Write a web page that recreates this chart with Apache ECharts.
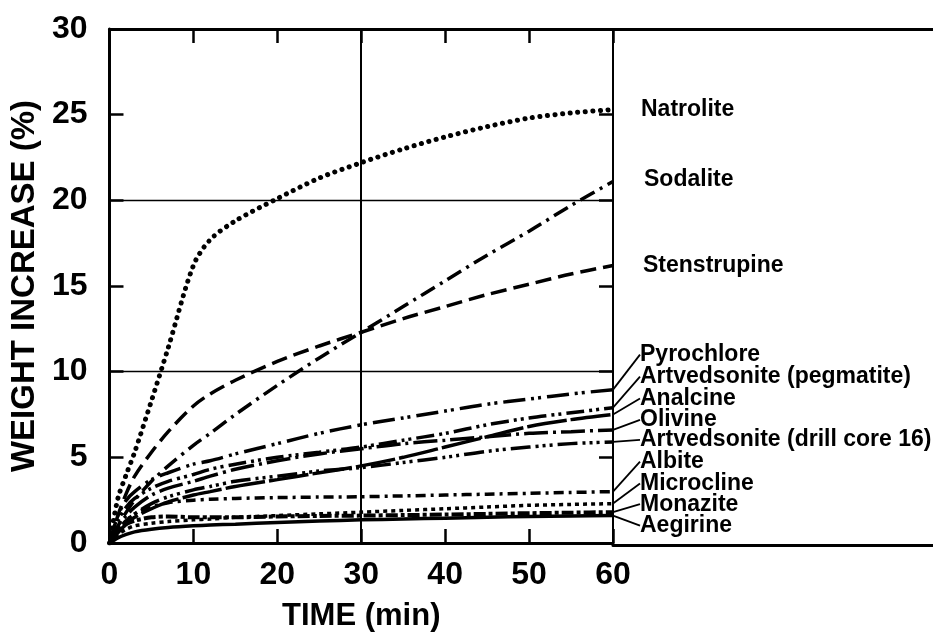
<!DOCTYPE html>
<html><head><meta charset="utf-8">
<script src="https://cdn.jsdelivr.net/npm/echarts@6/dist/echarts.min.js"></script>
<style>html,body{margin:0;padding:0;background:#fff}#c{width:933px;height:637px}</style>
</head><body><div id="c"></div>
<script>
// ---- data ----
const times        = [0, 1, 2, 3, 5, 7, 10, 12, 15, 20, 25, 30, 35, 40, 45, 50, 55, 60];
const natrolite    = [0, 2.6, 4.0, 5.3, 8.3, 11.4, 16.2, 17.7, 18.8, 20.1, 21.3, 22.2, 23.0, 23.7, 24.3, 24.8, 25.1, 25.3];
const sodalite     = [0, 1.0, 1.8, 2.5, 3.6, 4.5, 5.7, 6.4, 7.5, 9.2, 10.8, 12.3, 13.8, 15.3, 16.8, 18.2, 19.7, 21.1];
const stenstrupine = [0, 1.6, 2.9, 3.9, 5.3, 6.5, 8.0, 8.7, 9.5, 10.6, 11.5, 12.3, 13.1, 13.8, 14.5, 15.1, 15.7, 16.2];
const pyrochlore   = [0, 1.6, 2.5, 3.0, 3.7, 4.1, 4.6, 4.8, 5.2, 5.8, 6.4, 6.9, 7.3, 7.7, 8.1, 8.4, 8.7, 8.95];
const artvPegm     = [0, 1.3, 2.1, 2.6, 3.2, 3.6, 4.0, 4.3, 4.6, 5.0, 5.3, 5.6, 6.0, 6.4, 6.9, 7.3, 7.6, 7.9];
const analcine     = [0, 0.6, 1.1, 1.5, 2.0, 2.4, 2.8, 3.0, 3.3, 3.7, 4.1, 4.5, 5.0, 5.6, 6.2, 6.8, 7.2, 7.5];
const olivine      = [0, 1.0, 1.6, 2.1, 2.8, 3.2, 3.6, 3.9, 4.3, 4.8, 5.2, 5.5, 5.8, 6.0, 6.2, 6.4, 6.5, 6.6];
const artvDrill    = [0, 0.8, 1.3, 1.7, 2.3, 2.7, 3.1, 3.3, 3.6, 3.9, 4.2, 4.4, 4.7, 5.0, 5.35, 5.6, 5.8, 5.9];
const albite       = [0, 0.8, 1.3, 1.7, 2.1, 2.35, 2.5, 2.55, 2.6, 2.65, 2.68, 2.7, 2.75, 2.8, 2.85, 2.9, 2.95, 3.0];
const microcline   = [0, 0.5, 0.8, 1.0, 1.15, 1.25, 1.35, 1.4, 1.5, 1.6, 1.7, 1.8, 1.9, 2.0, 2.1, 2.2, 2.25, 2.3];
const monazite     = [0, 0.7, 1.1, 1.3, 1.5, 1.55, 1.5, 1.5, 1.5, 1.55, 1.58, 1.6, 1.63, 1.66, 1.7, 1.74, 1.77, 1.8];
const aegirine     = [0, 0.3, 0.5, 0.65, 0.8, 0.9, 1.0, 1.05, 1.1, 1.2, 1.28, 1.35, 1.4, 1.45, 1.5, 1.55, 1.58, 1.6];

const seriesNames = ['Natrolite', 'Sodalite', 'Stenstrupine', 'Pyrochlore', 'Artvedsonite (pegmatite)',
  'Analcine', 'Olivine', 'Artvedsonite (drill core 16)', 'Albite', 'Microcline', 'Monazite', 'Aegirine'];
const xTickLabels = ['0', '10', '20', '30', '40', '50', '60'];
const yTickLabels = ['0', '5', '10', '15', '20', '25', '30'];

// ---- styles ----
const FONT = 'Liberation Sans';
const K = '#000';
const styles = [
  { vals: natrolite,    dash: [0.1, 7.5], width: 5, cap: 'round', dx: 28, dy: 0,   leader: false },
  { vals: sodalite,     dash: [16, 6, 3, 6], width: 3.5, dx: 31, dy: -2, leader: false },
  { vals: stenstrupine, dash: [16, 7], width: 3.5, dx: 30, dy: 0, leader: false },
  { vals: pyrochlore,   dash: [22, 6, 3, 4, 3, 6], width: 3.5, dx: 27, dy: -35, leader: true },
  { vals: artvPegm,     dash: [18, 5, 3, 4, 3, 5], width: 3.5, dx: 27, dy: -31, leader: true },
  { vals: analcine,     dash: [40, 4], width: 3.5, dx: 27, dy: -16, leader: true },
  { vals: olivine,      dash: [24, 5, 3, 5], width: 3.5, dx: 27, dy: -10, leader: true },
  { vals: artvDrill,    dash: [20, 5, 3, 4, 3, 4, 3, 5], width: 3.5, dx: 27, dy: -2, leader: true },
  { vals: albite,       dash: [10, 5, 3, 5], width: 3.5, dx: 27, dy: -30, leader: true },
  { vals: microcline,   dash: [4, 4], width: 3.5, dx: 27, dy: -20, leader: true },
  { vals: monazite,     dash: [12, 3, 4, 3], width: 4, dx: 27, dy: -8, leader: true },
  { vals: aegirine,     dash: 'solid', width: 3.5, dx: 27, dy: 10, leader: true }
];

const series = styles.map((s, k) => {
  const last = times.length - 1;
  const data = times.map((t, i) => i === last
    ? { value: [t, s.vals[i]], label: { show: true } }
    : [t, s.vals[i]]);
  const obj = {
    name: seriesNames[k], type: 'line', xAxisIndex: 0, yAxisIndex: 0,
    data, smooth: 0.3,
    showSymbol: true, symbol: 'circle', symbolSize: 0.01,
    itemStyle: { color: K },
    lineStyle: { color: K, width: s.width, type: s.dash, cap: s.cap || 'butt' },
    label: { show: false, position: 'right', distance: 0, formatter: seriesNames[k],
      color: K, fontFamily: FONT, fontWeight: 'bold', fontSize: 23 },
    labelLayout: { dx: s.dx, dy: s.dy },
    labelLine: { show: s.leader, lineStyle: { color: K, width: 1.8 } },
    emphasis: { disabled: true }, silent: true, z: 3
  };
  if (k === 0) {
    obj.markLine = {
      silent: true, symbol: ['none', 'none'], label: { show: false }, animation: false,
      lineStyle: { color: K, width: 1.4, type: 'solid' },
      data: [{ yAxis: 10 }, { yAxis: 20 }, { xAxis: 30, lineStyle: { width: 2, type: 'solid', color: K } }]
    };
  }
  return obj;
});

const axisLine = w => ({ show: true, onZero: false, lineStyle: { color: K, width: w } });
const tick = () => ({ show: true, inside: true, length: 14, lineStyle: { color: K, width: 2.5 } });

const chart = echarts.init(document.getElementById('c'), null, { renderer: 'canvas' });
chart.setOption({
  animation: false,
  backgroundColor: '#fff',
  grid: [
    { left: 106, right: 320, top: 29, bottom: 92 },
    { left: 613, right: -4, top: 29, bottom: 92 }
  ],
  xAxis: [
    { gridIndex: 0, type: 'value', min: 0, max: 60, interval: 10, position: 'bottom',
      axisLine: axisLine(3), axisTick: tick(),
      axisLabel: { color: K, fontFamily: FONT, fontWeight: 'bold', fontSize: 32, margin: 16,
        formatter: v => xTickLabels[Math.round(v / 10)] },
      splitLine: { show: false },
      name: 'TIME (min)', nameLocation: 'middle', nameGap: 58,
      nameTextStyle: { color: K, fontFamily: FONT, fontWeight: 'bold', fontSize: 31 } },
    { gridIndex: 0, type: 'value', min: 0, max: 60, interval: 10, position: 'top',
      axisLine: axisLine(3), axisTick: tick(), axisLabel: { show: false }, splitLine: { show: false } },
    { gridIndex: 1, type: 'value', min: 0, max: 1, position: 'bottom',
      axisLine: axisLine(3), axisTick: { show: false }, axisLabel: { show: false }, splitLine: { show: false } },
    { gridIndex: 1, type: 'value', min: 0, max: 1, position: 'top',
      axisLine: axisLine(3), axisTick: { show: false }, axisLabel: { show: false }, splitLine: { show: false } }
  ],
  yAxis: [
    { gridIndex: 0, type: 'value', min: 0, max: 30, interval: 5, position: 'left',
      axisLine: axisLine(3), axisTick: tick(),
      axisLabel: { color: K, fontFamily: FONT, fontWeight: 'bold', fontSize: 32, margin: 22,
        formatter: v => yTickLabels[Math.round(v / 5)] },
      splitLine: { show: false },
      name: 'WEIGHT INCREASE (%)', nameLocation: 'middle', nameGap: 64,
      nameTextStyle: { color: K, fontFamily: FONT, fontWeight: 'bold', fontSize: 33 } },
    { gridIndex: 0, type: 'value', min: 0, max: 30, interval: 5, position: 'right',
      axisLine: axisLine(2), axisTick: tick(), axisLabel: { show: false }, splitLine: { show: false } },
    { gridIndex: 1, type: 'value', min: 0, max: 1, show: false }
  ],
  series
});
</script></body></html>
